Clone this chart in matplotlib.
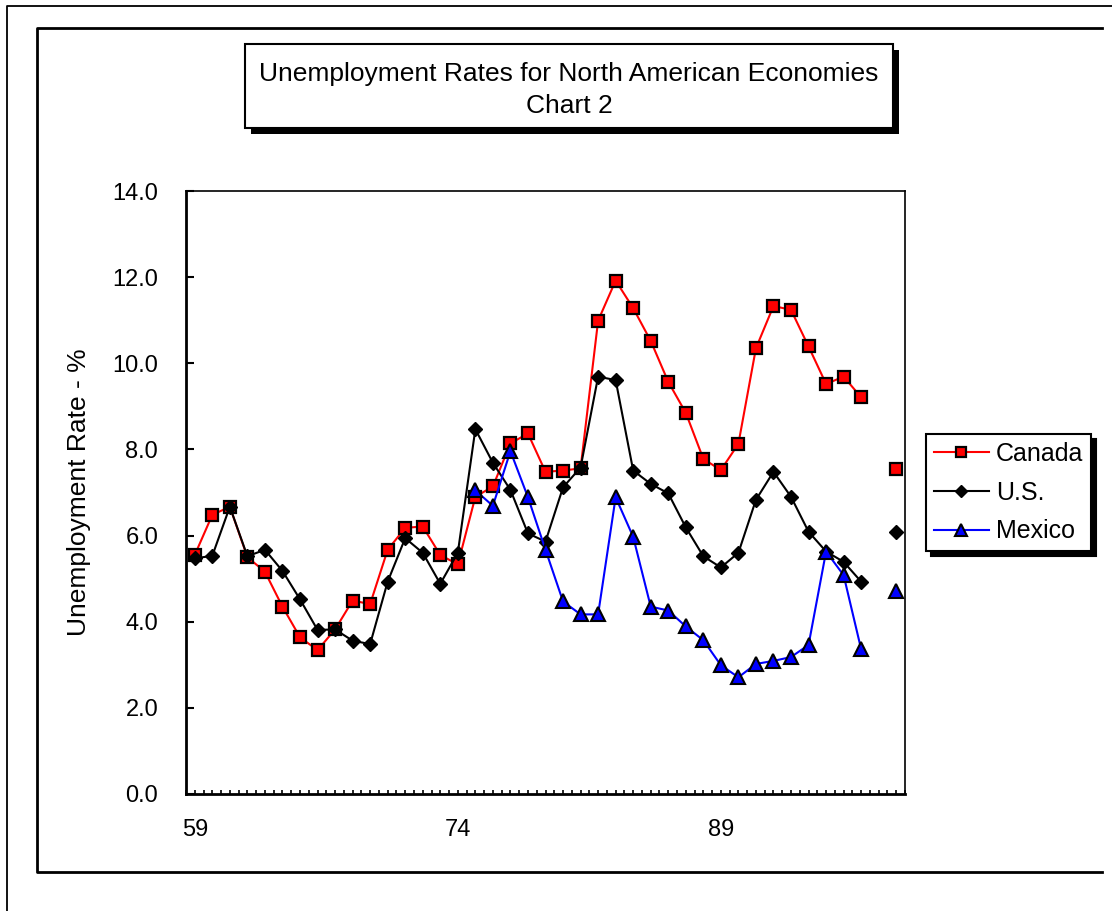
import numpy as np
import matplotlib
matplotlib.use('Agg')
import matplotlib.pyplot as plt
from matplotlib.lines import Line2D
from matplotlib.patches import Rectangle
from matplotlib.ticker import FixedLocator, FormatStrFormatter

plt.rcParams['font.family'] = ['Liberation Sans', 'DejaVu Sans']

# annual unemployment rates (%), 1959-1999, 1998 missing
years = np.arange(59, 100)
canada = [5.55, 6.48, 6.67, 5.50, 5.16, 4.35, 3.64, 3.34, 3.82, 4.49, 4.41, 5.67, 6.18, 6.21, 5.55, 5.33,
          6.90, 7.14, 8.14, 8.37, 7.48, 7.51, 7.56, 10.99, 11.92, 11.28, 10.52, 9.57, 8.85, 7.78, 7.52,
          8.13, 10.35, 11.33, 11.24, 10.39, 9.52, 9.69, 9.21, np.nan, 7.54]
us = [5.47, 5.53, 6.67, 5.52, 5.67, 5.18, 4.52, 3.81, 3.82, 3.56, 3.48, 4.93, 5.94, 5.60, 4.88, 5.60,
      8.47, 7.69, 7.06, 6.05, 5.86, 7.12, 7.58, 9.69, 9.61, 7.51, 7.20, 6.98, 6.19, 5.52, 5.26,
      5.60, 6.83, 7.48, 6.90, 6.09, 5.63, 5.39, 4.93, np.nan, 6.08]
mexico = [np.nan] * 16 + [7.05, 6.69, 7.96, 6.89, 5.67, 4.47, 4.17, 4.17, 6.89, 5.97, 4.35, 4.26, 3.89,
                          3.57, 2.99, 2.71, 3.02, 3.09, 3.18, 3.46, 5.63, 5.08, 3.36, np.nan, 4.72]
year_ticks = [59, 74, 89]
year_labels = ['59', '74', '89']
rate_ticks = np.arange(0, 15, 2)

W, H = 1112, 911


def fx(x):
    return x / W


def fy(y):
    # pixel rows counted from the top
    return 1 - y / H


fig = plt.figure(figsize=(W / 100, H / 100), dpi=100)

# outer thin border and inner chart frame
fig.add_artist(Line2D([fx(7), fx(7), fx(1112)], [fy(915), fy(6), fy(6)],
                      transform=fig.transFigure, color='black', lw=1.3))
fig.add_artist(Line2D([fx(1102), fx(37), fx(37), fx(1102)], [fy(28), fy(28), fy(872), fy(872)],
                      transform=fig.transFigure, color='black', lw=2))

# title box with drop shadow
fig.add_artist(Rectangle((fx(251), fy(134)), fx(893 - 245), (128 - 44) / H,
                         transform=fig.transFigure, fc='black', ec='black', lw=0))
fig.add_artist(Rectangle((fx(245), fy(128)), fx(893 - 245), (128 - 44) / H,
                         transform=fig.transFigure, fc='white', ec='black', lw=1.5))
fig.text(fx(569), fy(74), 'Unemployment Rates for North American Economies',
         ha='center', va='center', fontsize=19)
fig.text(fx(569), fy(106), 'Chart 2', ha='center', va='center', fontsize=19)

ax = fig.add_axes([fx(186), fy(794), fx(905 - 186), (794 - 191) / H])

ax.plot(years, canada, color='#FF0000', lw=1.5, marker='s', ms=8.5,
        mfc='#FF0000', mec='black', mew=1.6, label='Canada')
ax.plot(years, us, color='black', lw=1.5, marker='D', ms=7.5,
        mfc='black', mec='black', mew=1, label='U.S.')
ax.plot(years, mexico, color='#0000FF', lw=1.5, marker='^', ms=10,
        mfc='#0000FF', mec='black', mew=1.5, label='Mexico')

ax.set_xlim(58.5, 99.5)
ax.set_ylim(0, 14)
ax.set_xticks(year_ticks)
ax.set_xticklabels(year_labels)
ax.xaxis.set_minor_locator(FixedLocator(np.arange(58.5, 99.6, 0.5)))
ax.set_yticks(rate_ticks)
ax.yaxis.set_major_formatter(FormatStrFormatter('%.1f'))

ax.tick_params(axis='x', which='both', direction='in', length=3, width=1.2, pad=18, labelsize=17)
ax.tick_params(axis='y', direction='in', length=6, width=1.5, pad=20, labelsize=17)

ax.spines['left'].set_linewidth(2)
ax.spines['bottom'].set_linewidth(2)
ax.spines['top'].set_linewidth(1.2)
ax.spines['right'].set_linewidth(1.2)

ax.set_ylabel('Unemployment Rate - %', fontsize=19)
ax.yaxis.set_label_coords(-0.132, 0.5)

leg = ax.legend(loc='upper left', bbox_to_anchor=(fx(926), fy(434)), bbox_transform=fig.transFigure,
                borderaxespad=0, fontsize=18, fancybox=False, edgecolor='black', framealpha=1,
                handlelength=2.2, handletextpad=0.3, labelspacing=0.6, borderpad=0.3,
                markerscale=0.8,
                shadow={'ox': 3.6, 'oy': -3.6, 'facecolor': 'black', 'edgecolor': 'black', 'alpha': 1})
leg.get_frame().set_linewidth(1.5)

fig.savefig('out.png', dpi=100)
